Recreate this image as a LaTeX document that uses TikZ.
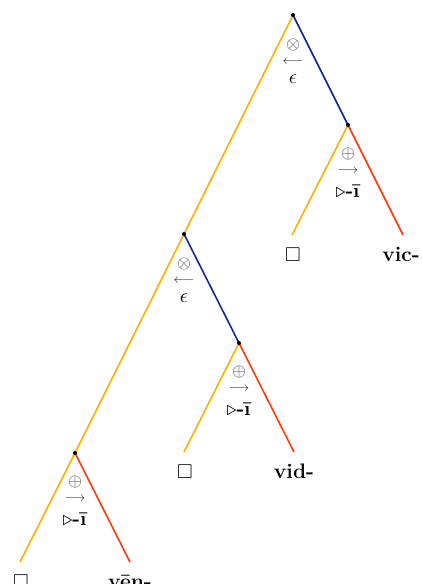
\documentclass[tikz,border=0pt]{standalone}
\usepackage{amssymb}
\usepackage{graphicx}
\begin{document}
\begin{tikzpicture}[x=1pt,y=-1pt,
  yel/.style={draw={rgb,255:red,255;green,176;blue,0},line width=1.6pt},
  blu/.style={draw={rgb,255:red,22;green,42;blue,140},line width=1.6pt},
  rd/.style={draw={rgb,255:red,255;green,58;blue,16},line width=1.6pt},
  dotnode/.style={circle,fill=black,inner sep=0pt,minimum size=4pt},
  sym/.style={inner sep=0pt,text=black!75},
  arr/.style={inner sep=0pt,text=black!85},
  bot/.style={inner sep=0pt},
  leaf/.style={inner sep=0pt,anchor=base,font=\fontsize{21}{24}\selectfont\bfseries},
  boxleaf/.style={inner sep=0pt,anchor=base,font=\fontsize{20}{24}\selectfont}]
\useasboundingbox (0,0) rectangle (421,584);
% internal points
\coordinate (r) at (293,15);
\coordinate (a) at (348,125);
\coordinate (b) at (184,234);
\coordinate (c) at (239,343);
\coordinate (d) at (75,453);
% leaf ends
\coordinate (a1) at (292,235);
\coordinate (a2) at (403,235);
\coordinate (c1) at (184,452);
\coordinate (c2) at (294,452);
\coordinate (d1) at (20,562);
\coordinate (d2) at (130,562);
% edges
\draw[yel] (r) -- (b);
\draw[blu] (r) -- (a);
\draw[yel] (a) -- (a1);
\draw[rd] (a) -- (a2);
\draw[yel] (b) -- (d);
\draw[blu] (b) -- (c);
\draw[yel] (c) -- (c1);
\draw[rd] (c) -- (c2);
\draw[yel] (d) -- (d1);
\draw[rd] (d) -- (d2);
% dots
\foreach \p in {r,a,b,c,d} \node[dotnode] (dot\p) at (\p) {};
% labels: otimes
\foreach \p/\x/\y in {r/293/15,b/184/234}{
  \node[sym] (s\p) at (\x,\y+30) {\scalebox{1.8}{$\otimes$}};
  \node[arr] (ar\p) at (\x,\y+47) {\scalebox{1.3}{$\longleftarrow$}};
  \node[bot] (e\p) at (\x,\y+64) {\scalebox{2.0}{$\epsilon$}};
}
% labels: oplus
\foreach \p/\x/\y in {a/348/125,c/239/343,d/75/453}{
  \node[sym] (s\p) at (\x,\y+29) {\scalebox{1.8}{$\oplus$}};
  \node[arr] (ar\p) at (\x,\y+46) {\scalebox{1.3}{$\longrightarrow$}};
  \node[bot] (e\p) at (\x,\y+66) {\scalebox{2.0}{$\triangleright$\textbf{-ī}}};
}
% leaves
\node[boxleaf] (la1) at (293,261) {$\Box$};
\node[leaf] (la2) at (401,261) {vic-};
\node[boxleaf] (lc1) at (185,478) {$\Box$};
\node[leaf] (lc2) at (294,478) {vid-};
\node[boxleaf] (ld1) at (21,588) {$\Box$};
\node[leaf] (ld2) at (130,588) {vēn-};
\end{tikzpicture}
\end{document}
